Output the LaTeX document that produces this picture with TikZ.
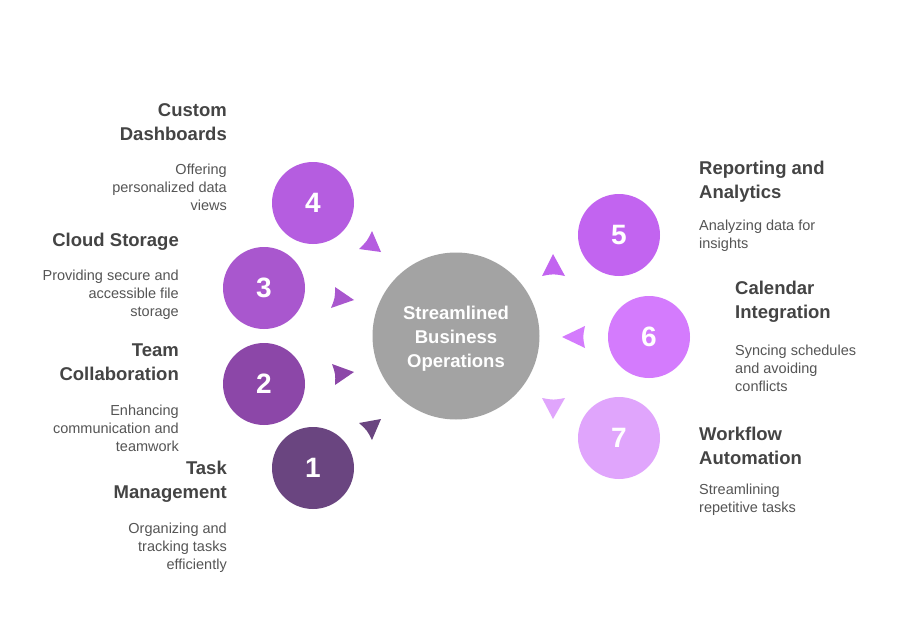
\documentclass[tikz,border=0pt]{standalone}
\usepackage{fontspec}
\setmainfont{Liberation Sans}
\definecolor{cA}{HTML}{6A4580}
\definecolor{cB}{HTML}{8C47A8}
\definecolor{cC}{HTML}{A957CE}
\definecolor{cD}{HTML}{B55DE0}
\definecolor{cE}{HTML}{C264F0}
\definecolor{cF}{HTML}{D47BFD}
\definecolor{cG}{HTML}{E0A5FC}
\definecolor{cgray}{HTML}{A3A3A3}
\definecolor{ttlc}{HTML}{444444}
\definecolor{descc}{HTML}{555555}
\tikzset{
  ttl/.style={font=\fontsize{18.5}{24}\selectfont\bfseries, text=ttlc, inner sep=0pt},
  desc/.style={font=\fontsize{14.5}{18}\selectfont, text=descc, inner sep=0pt},
  numc/.style={circle, minimum size=82pt, inner sep=0pt, text=white, font=\fontsize{28}{30}\selectfont\bfseries}
}
\newcommand{\arrowtri}[4]{% color, tip, b1, b2
  \fill[#1] #2 -- #3 .. controls ($#3!0.5!#4!0.1!#2$) .. #4 -- cycle;}
\usetikzlibrary{calc}
\begin{document}
\begin{tikzpicture}[x=1pt,y=-1pt]
\useasboundingbox (0,0) rectangle (914,626);
\fill[white] (0,0) rectangle (914,626);
% center
\node[circle, minimum size=167pt, inner sep=0pt, fill=cgray] (c) at (456,336) {};
\node[text=white, align=center, inner sep=0pt,
  font=\fontsize{18.5}{24}\selectfont\bfseries] (ct) at (456,339) {Streamlined\\Business\\Operations};
% numbered circles
\node[numc, fill=cA] (n1) at (313,468) {1};
\node[numc, fill=cB] (n2) at (264,384) {2};
\node[numc, fill=cC] (n3) at (264,288) {3};
\node[numc, fill=cD] (n4) at (313,203) {4};
\node[numc, fill=cE] (n5) at (619,235) {5};
\node[numc, fill=cF] (n6) at (649,337) {6};
\node[numc, fill=cG] (n7) at (619,438) {7};
% arrowheads
\arrowtri{cD}{(381,252)}{(359,249)}{(372,231)}
\arrowtri{cC}{(354,300)}{(335,287)}{(331,308)}
\arrowtri{cB}{(354,372)}{(332,364)}{(335,385)}
\arrowtri{cA}{(381,419)}{(372,440)}{(359,423)}
\arrowtri{cE}{(553,254)}{(542,276)}{(565,276)}
\arrowtri{cF}{(562,337)}{(585,326)}{(585,348)}
\arrowtri{cG}{(553,419)}{(542,398)}{(565,398)}
% left texts
\node[ttl, align=right, anchor=east] (t4) at (227,122) {Custom\\Dashboards};
\node[desc, align=right, anchor=east] (d4) at (227,187) {Offering\\personalized data\\views};
\node[ttl, align=right, anchor=east] (t3) at (179,242) {Cloud Storage};
\node[desc, align=right, anchor=east] (d3) at (179,295) {Providing secure and\\accessible file\\storage};
\node[ttl, align=right, anchor=east] (t2) at (179,362) {Team\\Collaboration};
\node[desc, align=right, anchor=east] (d2) at (179,428) {Enhancing\\communication and\\teamwork};
\node[ttl, align=right, anchor=east] (t1) at (227,482) {Task\\Management};
\node[desc, align=right, anchor=east] (d1) at (227,548) {Organizing and\\tracking tasks\\efficiently};
% right texts
\node[ttl, align=left, anchor=west] (t5) at (699,182) {Reporting and\\Analytics};
\node[desc, align=left, anchor=west] (d5) at (699,236) {Analyzing data for\\insights};
\node[ttl, align=left, anchor=west] (t6) at (735,302) {Calendar\\Integration};
\node[desc, align=left, anchor=west] (d6) at (735,368) {Syncing schedules\\and avoiding\\conflicts};
\node[ttl, align=left, anchor=west] (t7) at (699,446) {Workflow\\Automation};
\node[desc, align=left, anchor=west] (d7) at (699,500) {Streamlining\\repetitive tasks};
\end{tikzpicture}
\end{document}
